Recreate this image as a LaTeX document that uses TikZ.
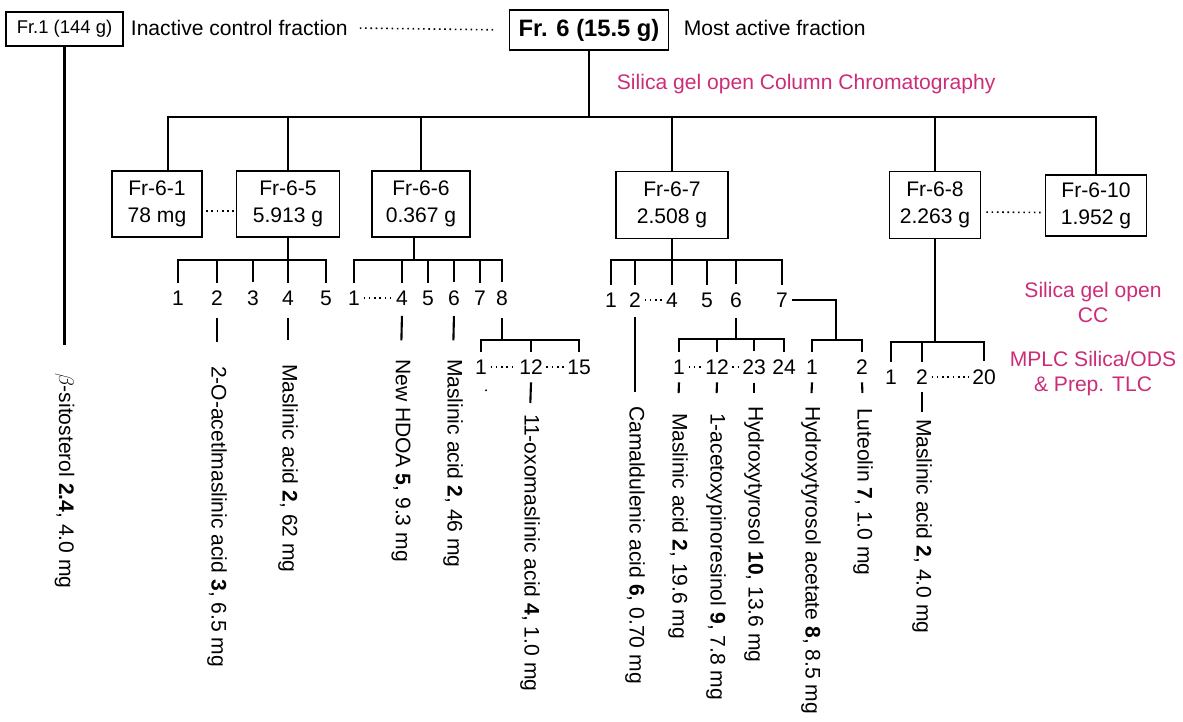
\documentclass[tikz,border=0pt]{standalone}
\usepackage{fontspec}
\setmainfont{Liberation Sans}
\usetikzlibrary{calc}

\definecolor{notecol}{RGB}{204,45,120}

\begin{document}
\begin{tikzpicture}[x=0.02cm,y=-0.02cm,line width=1.2pt,
  frac/.style={draw,line width=0.7pt,align=center,inner sep=0pt,font=\fontsize{12}{15.5}\selectfont},
  num/.style={inner xsep=1.5pt,inner ysep=4pt,font=\fontsize{12}{14}\selectfont},
  cmpd/.style={rotate=-90,anchor=west,inner sep=0pt,font=\fontsize{12}{14}\selectfont},
  note/.style={text=notecol,align=center,font=\fontsize{12}{14.2}\selectfont},
  dots/.style={line width=0.9pt,dash pattern=on 0.9pt off 2.1pt}]
\useasboundingbox (0,0) rectangle (1183,721);

% top row
\node[frac,font=\fontsize{10.5}{12}\selectfont,minimum width=2.34cm,minimum height=0.68cm] (fr1) at (64.5,29) {Fr.1 (144 g)};
\node[anchor=west,font=\fontsize{12}{14}\selectfont] (ina) at (124,28) {Inactive control fraction};
\node[frac,font=\fontsize{13.5}{16}\bfseries,minimum width=3.18cm,minimum height=0.8cm] (fr6) at (589,30) {Fr. 6 (15.5 g)};
\node[anchor=west,font=\fontsize{12}{14}\selectfont] (act) at (677,28) {Most active fraction};
\draw[dots,shorten <=3pt,shorten >=7pt] (ina.east) -- (fr6.west);
\node[note,anchor=west] (cc0) at (610,84) {Silica gel open Column Chromatography};

% fractions
\node[frac,minimum width=1.8cm,minimum height=1.32cm] (f61) at (157,204) {Fr-6-1\\78 mg};
\node[frac,minimum width=2.06cm,minimum height=1.32cm] (f65) at (288,204) {Fr-6-5\\5.913 g};
\node[frac,minimum width=1.96cm,minimum height=1.32cm] (f66) at (421,204) {Fr-6-6\\0.367 g};
\node[frac,minimum width=2.24cm,minimum height=1.34cm] (f67) at (672,205) {Fr-6-7\\2.508 g};
\node[frac,minimum width=1.82cm,minimum height=1.34cm] (f68) at (935,205) {Fr-6-8\\2.263 g};
\node[frac,minimum width=2.02cm,minimum height=1.22cm] (f610) at (1096,205.5) {Fr-6-10\\1.952 g};
\draw[dots,shorten <=2pt,shorten >=1pt] ([yshift=-4pt]f61.east) -- ([yshift=-4pt]f65.west);
\draw[dots,shorten <=3pt,shorten >=1pt] ([yshift=-4pt]f68.east) -- ([yshift=-4pt]f610.west);

\coordinate (bus) at (589,117);
\coordinate (busL) at (168,117);
\draw (fr6.south) -- (bus);
\draw (busL |- f61.north) -- (busL) -| (f610.north);
\foreach \f in {f65,f66,f67,f68}
  \draw (\f.north |- bus) -- (\f.north);

% Fr.1
\node[cmpd] (c1) at (64.5,372) {$\beta$-sitosterol \textbf{2.4}, 4.0 mg};
\draw[shorten >=15.3pt] (fr1.south) -- (c1.west);

% Fr-6-5
\coordinate (b65) at (288,260);
\node[num] (n51) at (178,298) {1};
\node[num] (n52) at (217,298) {2};
\node[num] (n53) at (253,298) {3};
\node[num] (n54) at (288,298) {4};
\node[num] (n55) at (326,298) {5};
\draw (f65.south) -- (n54.north);
\draw (n51.north) |- (b65) -| (n55.north);
\foreach \n in {n52,n53}
  \draw (\n.north) -- (\n.north |- b65);
\node[cmpd] (c52) at (217,365) {2-O-acetlmaslinic acid \textbf{3}, 6.5 mg};
\node[cmpd] (c54) at (288,363) {Maslinic acid \textbf{2}, 62 mg};
\draw[shorten <=2.6pt,shorten >=13pt] (n52.south) -- (c52.west);
\draw[shorten <=2.6pt,shorten >=13pt] (n54.south) -- (c54.west);

% Fr-6-6
\coordinate (b66) at (414,260);
\node[num] (n61) at (354,298) {1};
\node[num] (n64) at (402,298) {4};
\node[num] (n65) at (428,298) {5};
\node[num] (n66) at (454,298) {6};
\node[num] (n67) at (480,298) {7};
\node[num] (n68) at (502,298) {8};
\draw (b66 |- f66.south) -- (b66);
\draw (n61.north) |- (b66) -| (n68.north);
\foreach \n in {n64,n65,n66,n67}
  \draw (\n.north) -- (\n.north |- b66);
\draw[dots] (n61.east) -- (n64.west);
\node[cmpd] (c64) at (401,358) {New HDOA \textbf{5}, 9.3 mg};
\node[cmpd] (c66) at (453,358) {Maslinic acid \textbf{2}, 46 mg};
\draw[shorten <=1.4pt,shorten >=10pt] (n64.south) -- (c64.west);
\draw[shorten <=1.4pt,shorten >=10pt] (n66.south) -- (c66.west);

\coordinate (b68) at (502,340);
\draw[shorten <=2.6pt] (n68.south) -- (b68);
\node[num] (n8a) at (481,367) {1};
\node[num] (n8b) at (531,367) {12};
\node[num] (n8c) at (579,367) {15};
\draw (n8a.north) |- (b68) -| (n8c.north);
\draw (n8b.north) -- (n8b.north |- b68);
\draw[dots] (n8a.east) -- (n8b.west);
\draw[dots] (n8b.east) -- (n8c.west);
\fill (n8a.south) ++(5,8) circle (1.1);
\node[cmpd] (c8b) at (530,413) {11-oxomaslinic acid \textbf{4}, 1.0 mg};
\draw[shorten >=5.7pt] (n8b.south) -- (c8b.west);

% Fr-6-7
\coordinate (b67) at (672,260);
\node[num] (n71) at (611,300) {1};
\node[num] (n72) at (635,300) {2};
\node[num] (n74) at (672,300) {4};
\node[num] (n75) at (707,300) {5};
\node[num] (n76) at (736,300) {6};
\node[num] (n77) at (782,300) {7};
\draw (f67.south) -- (n74.north);
\draw (n71.north) |- (b67) -| (n77.north);
\foreach \n in {n72,n75,n76}
  \draw (\n.north) -- (\n.north |- b67);
\draw[dots] (n72.east) -- (n74.west);
\node[cmpd] (c72) at (635,405) {Camaldulenic acid \textbf{6}, 0.70 mg};
\draw[shorten <=0.9pt,shorten >=7.4pt] (n72.south) -- (c72.west);

\coordinate (b76) at (736,339);
\draw[shorten <=1.4pt] (n76.south) -- (b76);
\node[num] (m1) at (679,367) {1};
\node[num] (m12) at (717,367) {12};
\node[num] (m23) at (754,367) {23};
\node[num] (m24) at (784,367) {24};
\draw (m1.north) |- (b76) -| (m24.north);
\foreach \n in {m12,m23}
  \draw (\n.north) -- (\n.north |- b76);
\draw[dots] (m1.east) -- (m12.west);
\draw[dots] (m12.east) -- (m23.west);
\node[cmpd] (cm1) at (678,412) {Maslinic acid \textbf{2}, 19.6 mg};
\node[cmpd] (cm12) at (716,412) {1-acetoxypinoresinol \textbf{9}, 7.8 mg};
\node[cmpd] (cm23) at (754,405) {Hydroxytyrosol \textbf{10}, 13.6 mg};
\draw[shorten >=10.8pt] (m1.south) -- (cm1.west);
\draw[shorten >=10.8pt] (m12.south) -- (cm12.west);
\draw[shorten >=6.8pt] (m23.south) -- (cm23.west);

\coordinate (b77) at (836,340);
\draw (n77.east) -| (b77);
\node[num] (p1) at (812,367) {1};
\node[num] (p2) at (862,367) {2};
\draw (p1.north) |- (b77) -| (p2.north);
\node[cmpd] (cp1) at (811,405) {Hydroxytyrosol acetate \textbf{8}, 8.5 mg};
\node[cmpd] (cp2) at (863,407) {Luteolin \textbf{7}, 1.0 mg};
\draw[shorten >=6.8pt] (p1.south) -- (cp1.west);
\draw[shorten >=8pt] (p2.south) -- (cp2.west);

% Fr-6-8
\coordinate (b8) at (935,342);
\node[num] (q1) at (891,377) {1};
\node[num] (q2) at (922,377) {2};
\node[num] (q20) at (984,377) {20};
\draw (f68.south) -- (b8);
\draw (q1.north) |- (b8) -| (q20.north);
\draw (q2.north) -- (q2.north |- b8);
\draw[dots] (q2.east) -- (q20.west);
\node[cmpd] (cq2) at (922,418) {Maslinic acid \textbf{2}, 4.0 mg};
\draw[shorten >=3.4pt] (q2.south) -- (cq2.west);

\node[note] (cc1) at (1093,302) {Silica gel open\\CC};
\node[note] (cc2) at (1093,374) {MPLC Silica/ODS\\\& Prep. TLC};

\end{tikzpicture}
\end{document}
